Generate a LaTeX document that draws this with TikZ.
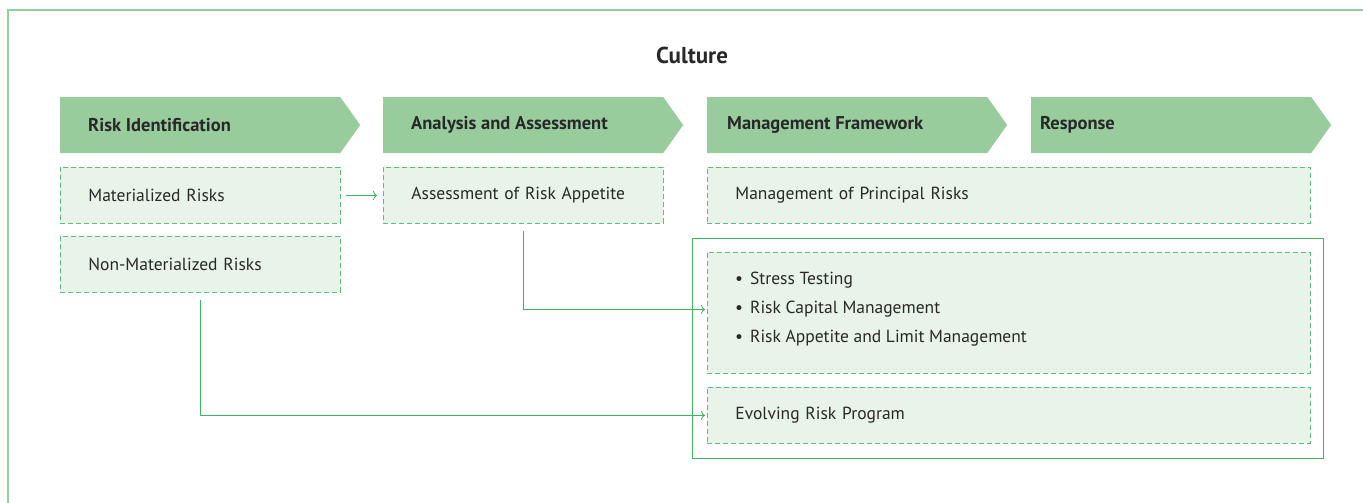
\documentclass[tikz,border=0pt]{standalone}
\usepackage{fontspec}
\setmainfont{PT Sans}
\usetikzlibrary{arrows.meta,positioning,shapes.symbols}
\definecolor{headgreen}{RGB}{153,204,156}
\definecolor{boxfill}{RGB}{232,243,233}
\definecolor{dashgreen}{RGB}{92,190,122}
\definecolor{linegreen}{RGB}{61,181,97}
\definecolor{framegreen}{RGB}{143,210,158}
\definecolor{txt}{RGB}{40,40,40}
\begin{document}
\begin{tikzpicture}[
		x=1pt, y=-1pt,
		font=\fontsize{17.5}{21}\selectfont,
		text=txt,
		phase/.style={signal, signal to=east, signal pointer angle=109, fill=headgreen, minimum width=300pt, minimum height=56pt, inner sep=0pt, anchor=west},
		phasetext/.style={font=\fontsize{18.5}{22}\selectfont\bfseries, anchor=west, inner sep=0pt},
		item/.style={draw=dashgreen, dash pattern=on 5pt off 3pt, line width=0.9pt, fill=boxfill, minimum height=56pt, inner xsep=28pt, align=left, anchor=north west},
		flow/.style={-{To[length=4pt,width=9pt]}, linegreen, line width=0.8pt},
	]
	\useasboundingbox (0,0) rectangle (1363,503);

	% outer frame
	\draw[framegreen, line width=1.4pt] (8,530) -- (8,10) -- (1390,10);
	\node[font=\fontsize{23}{26}\selectfont\bfseries] (culture) at (692,55) {Culture};

	% phases
	\node[phase] (p1) at (60,125) {};
	\node[phase] (p2) at (383,125) {};
	\node[phase] (p3) at (707,125) {};
	\node[phase] (p4) at (1031,125) {};
	\node[phasetext] (l1) at (88,125) {Risk Identification};
	\node[phasetext] (l2) at (411,125) {Analysis and Assessment};
	\node[phasetext] (l3) at (727,125) {Management Framework};
	\node[phasetext] (l4) at (1040,125) {Response};

	% items
	\node[item, text width=224pt] (mat) at (60,167) {Materialized Risks};
	\node[item, text width=224pt] (nonmat) at (60,236) {Non-Materialized Risks};
	\node[item, text width=224pt] (appetite) at (383,167) {Assessment of Risk Appetite};
	\node[item, text width=547pt] (principal) at (707,167) {Management of Principal Risks};

	\draw[linegreen, line width=1pt] (692,238) rectangle (1323,458);
	\node[item, minimum width=603pt, minimum height=121pt] (tools) at (707,252) {};
	\node[anchor=north west, inner sep=0pt, align=left, font=\fontsize{17.5}{29}\selectfont] (toollist) at (735,272)
		{\textbullet\hspace{7pt}Stress Testing\\
		 \textbullet\hspace{7pt}Risk Capital Management\\
		 \textbullet\hspace{7pt}Risk Appetite and Limit Management};
	\node[item, text width=547pt] (evolving) at (707,387) {Evolving Risk Program};

	% connectors
	\draw[flow, shorten <=5pt, shorten >=6pt] (mat) -- (appetite);
	\draw[flow, shorten <=7pt, shorten >=2pt] (appetite.south) |- ([yshift=3.5pt]tools.west);
	\draw[flow, shorten <=7pt, shorten >=2pt] (nonmat.south) |- (evolving.west);
\end{tikzpicture}
\end{document}
